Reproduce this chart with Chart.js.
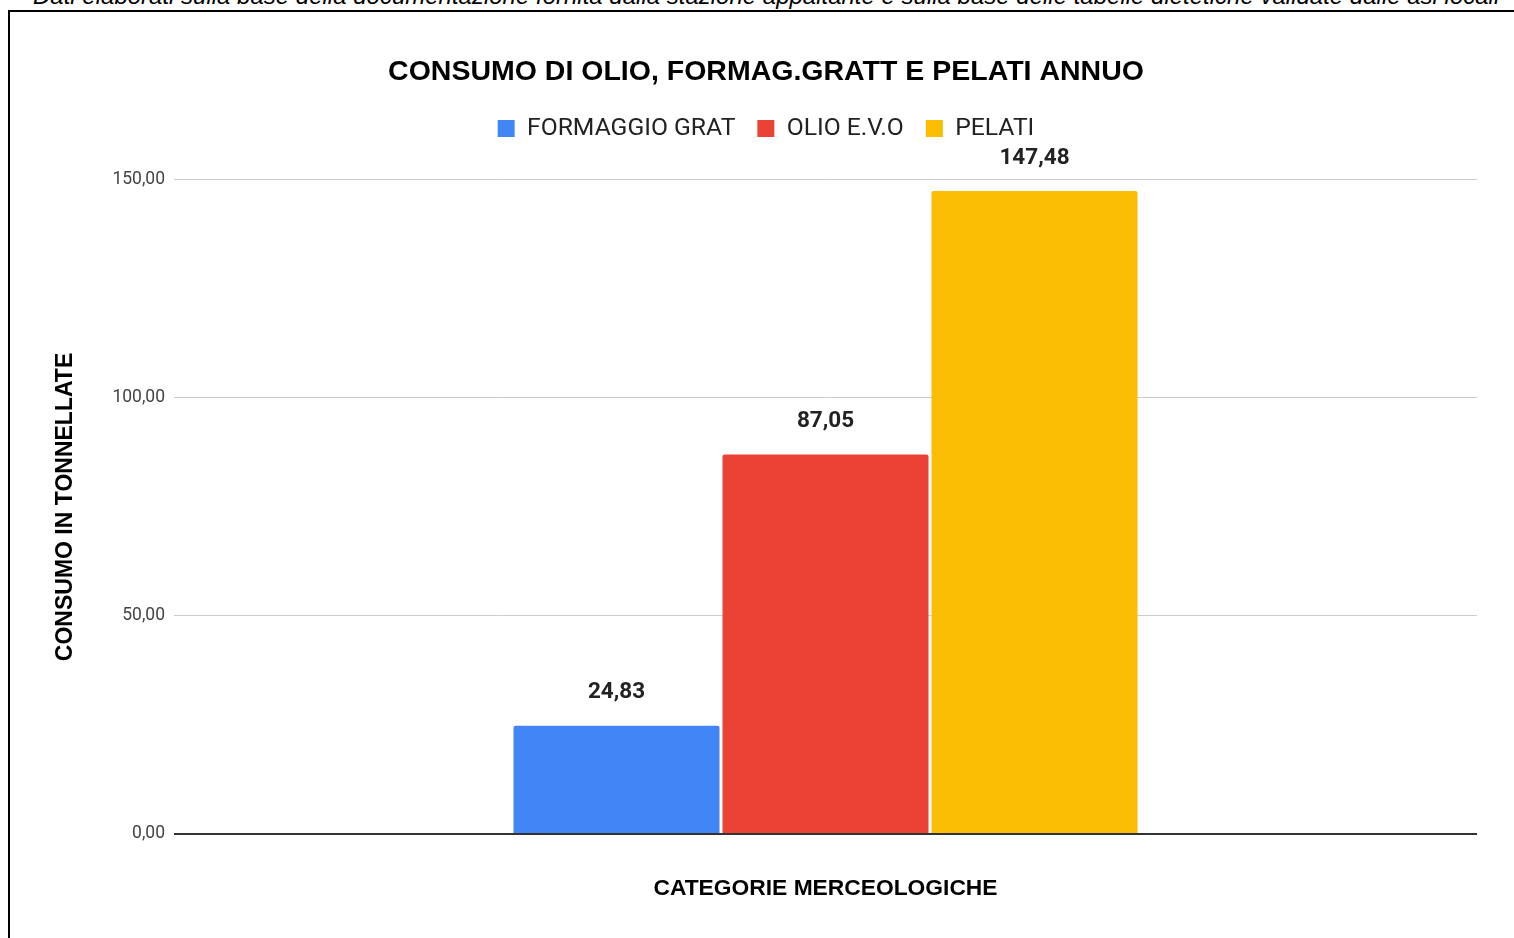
<!DOCTYPE html>
<html>
<head>
<meta charset="utf-8">
<script src="https://cdn.jsdelivr.net/npm/chart.js@4.4.1/dist/chart.umd.min.js"></script>
<style>
  html, body { margin: 0; padding: 0; background: #fff; overflow: hidden; width: 1514px; height: 938px; }
  #note { position: absolute; left: 33px; top: -18px; white-space: nowrap; font: italic 24px "Liberation Sans", Arial, sans-serif; color: #000; }
  #frame { position: absolute; left: 8px; top: 10px; width: 1600px; height: 1000px; border: 2px solid #000; box-sizing: border-box; }
  #wrap { position: absolute; left: 10px; top: 12px; width: 1512px; height: 926px; }
</style>
</head>
<body>
<div id="note">Dati elaborati sulla base della documentazione fornita dalla stazione appaltante e sulla base delle tabelle dietetiche validate dalle asl locali</div>
<div id="frame"></div>
<div id="wrap"><canvas id="c"></canvas></div>
<script>
const chartTitle = "CONSUMO DI OLIO, FORMAG.GRATT E PELATI ANNUO";
const categories = [""];
const seriesNames = ["FORMAGGIO GRAT", "OLIO E.V.O", "PELATI"];
const formaggioGrat = [24.83];
const olioEvo = [87.05];
const pelati = [147.48];
const seriesColors = ["#4285F4", "#EA4335", "#FBBC04"];
const yTitle = "CONSUMO IN TONNELLATE";
const xTitle = "CATEGORIE MERCEOLOGICHE";
const yMin = 0, yMax = 150, yStep = 50;

const fmt = v => v.toFixed(2).replace('.', ',');

const legendSpacer = {
  id: 'legendSpacer',
  beforeUpdate(chart) {
    const lg = chart.legend;
    if (lg && !lg._spaced) {
      const orig = lg.fit;
      lg.fit = function () { orig.call(this); this.height += 29; };
      lg._spaced = true;
    }
  }
};

const dataLabels = {
  id: 'dataLabels',
  afterDatasetsDraw(chart) {
    const ctx = chart.ctx;
    ctx.save();
    ctx.font = 'bold 22.5px Roboto, "Liberation Sans", sans-serif';
    ctx.fillStyle = '#222';
    ctx.textAlign = 'center';
    ctx.textBaseline = 'middle';
    chart.data.datasets.forEach((ds, i) => {
      chart.getDatasetMeta(i).data.forEach((bar, j) => {
        ctx.fillText(fmt(ds.data[j]), bar.x, bar.y - 33);
      });
    });
    ctx.restore();
  }
};

const allSeries = [formaggioGrat, olioEvo, pelati];

new Chart(document.getElementById('c'), {
  type: 'bar',
  data: {
    labels: categories,
    datasets: allSeries.map((d, i) => ({
      label: seriesNames[i],
      data: d,
      backgroundColor: seriesColors[i],
      borderWidth: 0,
      borderRadius: { topLeft: 2, topRight: 2, bottomLeft: 0, bottomRight: 0 },
      borderSkipped: false,
      categoryPercentage: 0.4812,
      barPercentage: 0.9856
    }))
  },
  options: {
    responsive: true,
    maintainAspectRatio: false,
    animation: false,
    layout: { padding: 0 },
    plugins: {
      title: {
        display: true,
        text: chartTitle,
        color: '#000',
        font: { family: '"Liberation Sans", Arial, sans-serif', size: 28.5, weight: 'bold' },
        padding: { top: 43, bottom: 5 }
      },
      legend: {
        display: true,
        position: 'top',
        labels: {
          color: '#222',
          font: { family: 'Roboto, "Liberation Sans", sans-serif', size: 24.7 },
          boxWidth: 17,
          boxHeight: 17,
          padding: 22
        }
      },
      tooltip: { enabled: false }
    },
    scales: {
      x: {
        grid: { display: false },
        border: { display: false },
        ticks: { display: false },
        title: {
          display: true,
          text: xTitle,
          color: '#000',
          font: { family: '"Liberation Sans", Arial, sans-serif', size: 22.8, weight: 'bold' },
          padding: { top: 0, bottom: 36 }
        },
        afterFit(s) { s.height = 104; }
      },
      y: {
        min: yMin,
        max: yMax,
        border: { display: false },
        grid: {
          drawTicks: false,
          color: c => c.tick && c.tick.value === 0 ? '#333' : '#ccc',
          lineWidth: c => c.tick && c.tick.value === 0 ? 2 : 1
        },
        ticks: {
          stepSize: yStep,
          padding: 9,
          color: '#444',
          font: { family: 'Roboto, "Liberation Sans", sans-serif', size: 17.5 },
          callback: v => fmt(v)
        },
        title: {
          display: true,
          text: yTitle,
          color: '#000',
          font: { family: '"Liberation Sans", Arial, sans-serif', size: 23, weight: 'bold' },
          padding: { top: 42, bottom: 0 }
        },
        afterFit(s) { s.width = 164; }
      },
      yR: {
        position: 'right',
        display: true,
        grid: { display: false },
        border: { display: false },
        ticks: { display: false },
        afterFit(s) { s.width = 45; }
      }
    }
  },
  plugins: [legendSpacer, dataLabels]
});
</script>
</body>
</html>
